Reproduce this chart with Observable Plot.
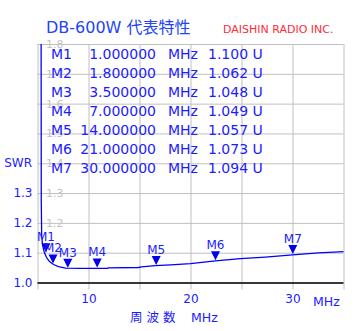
<!DOCTYPE html>
<html><head><meta charset="utf-8">
<script src="https://cdn.jsdelivr.net/npm/d3@7"></script>
<script src="https://cdn.jsdelivr.net/npm/@observablehq/plot@0.6"></script>
<style>body{margin:0;background:#fff}</style>
</head><body><div id="chart"></div>
<script>
// Curve (x axis in MHz as labelled, SWR)
const curveFreq = [5.30, 5.32, 5.36, 5.44, 5.59, 5.83, 6.13, 6.52, 7.01, 7.70, 9.17, 11.81, 11.90, 14.85, 15.15, 16.5, 18.0, 19.95, 22.4, 24.85, 27.3, 29.95, 32.5, 35.0];
const curveSwr  = [2.00, 1.277, 1.159, 1.129, 1.106, 1.086, 1.072, 1.062, 1.055, 1.050, 1.049, 1.049, 1.051, 1.052, 1.054, 1.058, 1.061, 1.065, 1.074, 1.082, 1.087, 1.094, 1.101, 1.105];

// Markers
const markerNames = ["M1", "M2", "M3", "M4", "M5", "M6", "M7"];
const markerPos   = [5.78, 6.47, 7.92, 10.80, 16.59, 22.40, 29.98];
const markerSwr   = [1.100, 1.062, 1.048, 1.049, 1.057, 1.073, 1.094];
const markerFreqLabels = ["1.000000", "1.800000", "3.500000", "7.000000", "14.000000", "21.000000", "30.000000"];
const markerSwrLabels  = ["1.100 U", "1.062 U", "1.048 U", "1.049 U", "1.057 U", "1.073 U", "1.094 U"];

// Ticks
const xGrid = [5, 10, 15, 20, 25, 30, 35];
const xLabels = [10, 20, 30];
const yGrid = [1.0, 1.1, 1.2, 1.3, 1.4, 1.5, 1.6, 1.7, 1.8];
const yLabelsBlue = [1.0, 1.1, 1.2, 1.3];
const yLabelsGray = [1.2, 1.3, 1.4, 1.5, 1.6, 1.7, 1.8];

const BLUE = "#1c1cff";
const curve = curveFreq.map((f, i) => ({f, s: curveSwr[i]}));
const markers = markerNames.map((n, i) => ({n, f: markerPos[i], s: markerSwr[i]}));

const downTriangle = {
  draw(ctx, size) {
    ctx.moveTo(-4.5, -9);
    ctx.lineTo(4.5, -9);
    ctx.lineTo(0, 0);
    ctx.closePath();
  }
};

const svg = Plot.plot({
  width: 356, height: 331,
  marginLeft: 37.5, marginRight: 12.5, marginTop: 44, marginBottom: 48.5,
  style: {fontFamily: "'DejaVu Sans', 'Noto Sans CJK JP', sans-serif", fontSize: "12px", background: "#fff"},
  x: {domain: [5, 35]},
  y: {domain: [1.0, 1.8]},
  marks: [
    Plot.gridX(xGrid, {stroke: "#c0c0c0", strokeOpacity: 1}),
    Plot.gridY(yGrid, {stroke: "#c0c0c0", strokeOpacity: 1}),
    Plot.axisX({ticks: xGrid, tickSize: 7, stroke: "#c0c0c0", tickFormat: () => "", label: null}),
    Plot.axisX({ticks: xLabels, tickSize: 7, strokeOpacity: 0, fill: BLUE, tickPadding: 4, fontSize: 12, label: null}),
    Plot.axisY({ticks: yLabelsBlue, tickSize: 0, tickPadding: 5.5, fill: BLUE, tickFormat: ".1f", fontSize: 12, label: null}),
    Plot.text(yLabelsGray, {x: 5, y: d => d, text: d => d.toFixed(1), dx: 8, textAnchor: "start", fill: "#c4c4c4", fontSize: 11}),
    Plot.ruleY([1.0], {stroke: "#000", strokeWidth: 1.5}),
    Plot.line(curve, {x: "f", y: "s", stroke: "#0000ff", strokeWidth: 1.3, clip: true}),
    Plot.dot(markers, {x: "f", y: "s", symbol: downTriangle, fill: "#0000ee", stroke: null, dy: -1}),
    Plot.text(markers, {x: "f", y: "s", text: "n", dy: -16, fill: BLUE, fontSize: 12})
  ]
});

const s = d3.select(svg);
const g = s.append("g")
  .attr("font-family", "'DejaVu Sans', 'Noto Sans CJK JP', sans-serif")
  .attr("text-anchor", "start");
g.append("text").attr("x", 46).attr("y", 33).attr("font-size", 16).attr("fill", "#2244f5").text("DB-600W 代表特性");
g.append("text").attr("x", 223).attr("y", 33).attr("font-size", 11).attr("fill", "#ff2a3a").text("DAISHIN RADIO INC.");
markerNames.forEach((n, i) => {
  const y = 59 + 19 * i;
  g.append("text").attr("x", 51).attr("y", y).attr("font-size", 14).attr("fill", BLUE).text(n);
  g.append("text").attr("x", 156).attr("y", y).attr("font-size", 14).attr("fill", BLUE).attr("text-anchor", "end").text(markerFreqLabels[i]);
  g.append("text").attr("x", 168).attr("y", y).attr("font-size", 14).attr("fill", BLUE).text("MHz");
  g.append("text").attr("x", 208).attr("y", y).attr("font-size", 14).attr("fill", BLUE).text(markerSwrLabels[i]);
});
g.append("text").attr("x", 32).attr("y", 167).attr("font-size", 12).attr("fill", BLUE).attr("text-anchor", "end").text("SWR");
g.append("text").attr("x", 313).attr("y", 306).attr("font-size", 12.5).attr("fill", BLUE).text("MHz");
g.append("text").attr("x", 130).attr("y", 322).attr("font-size", 12.5).attr("fill", BLUE).attr("xml:space", "preserve").text("周 波 数");
g.append("text").attr("x", 191).attr("y", 322).attr("font-size", 12.5).attr("fill", BLUE).text("MHz");

document.getElementById("chart").appendChild(svg);
</script>
</body></html>
